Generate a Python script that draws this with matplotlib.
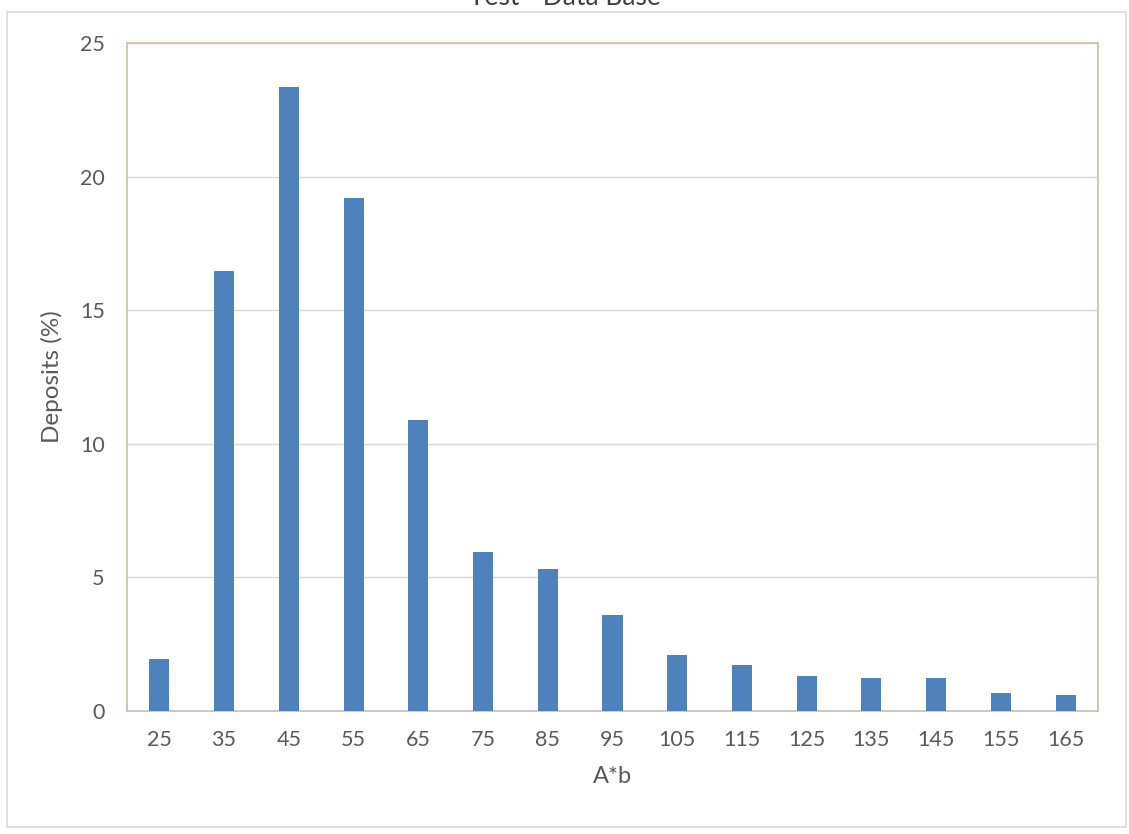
import matplotlib.pyplot as plt
from matplotlib.patches import Rectangle

CATEGORIES = ["25", "35", "45", "55", "65", "75", "85", "95", "105", "115",
              "125", "135", "145", "155", "165"]
DEPOSITS = [1.95, 16.45, 23.35, 19.2, 10.9, 5.95, 5.3, 3.6, 2.08, 1.72,
            1.3, 1.22, 1.22, 0.67, 0.6]

W, H = 1129, 834
TEXT = "#595959"


def main() -> None:
    plt.rcParams["font.family"] = ["Lato", "DejaVu Sans"]
    fig = plt.figure(figsize=(W / 100, H / 100), dpi=100)

    # outer chart border
    fig.patches.append(Rectangle((7 / W, 1 - 827 / H), 1119 / W, 815 / H,
                                 transform=fig.transFigure, fill=False,
                                 edgecolor="#D9D9D9", lw=1.2))

    ax = fig.add_axes([127 / W, 1 - 711 / H, 971 / W, 668 / H])
    x = range(len(CATEGORIES))
    ax.bar(x, DEPOSITS, width=0.31, color="#4F81BD", zorder=3)

    ax.set_xlim(-0.5, len(CATEGORIES) - 0.5)
    ax.set_ylim(0, 25)
    ax.set_yticks([0, 5, 10, 15, 20, 25])
    ax.set_xticks(list(x))
    ax.set_xticklabels(CATEGORIES)
    ax.grid(axis="y", color="#D9D9D9", lw=1, zorder=0)
    ax.tick_params(length=0, labelsize=15.5, colors=TEXT, pad=14)
    ax.tick_params(axis="y", pad=16)

    for side in ("left", "top", "right"):
        ax.spines[side].set_color("#C9BFA2")
        ax.spines[side].set_linewidth(1.2)
    ax.spines["bottom"].set_color("#BFBFBF")
    ax.spines["bottom"].set_linewidth(1.2)

    ax.set_xlabel("A*b", fontsize=17, color=TEXT, labelpad=11)
    ax.set_ylabel("Deposits (%)", fontsize=17.5, color=TEXT, labelpad=12)

    # title sits partly above the figure edge, as in the source image
    fig.text(0.5, 1 - 5 / H, "Test - Data Base", ha="center", va="baseline",
             fontsize=19, color="#404040")

    fig.savefig("out.png", dpi=100)
    plt.close(fig)


if __name__ == "__main__":
    main()
